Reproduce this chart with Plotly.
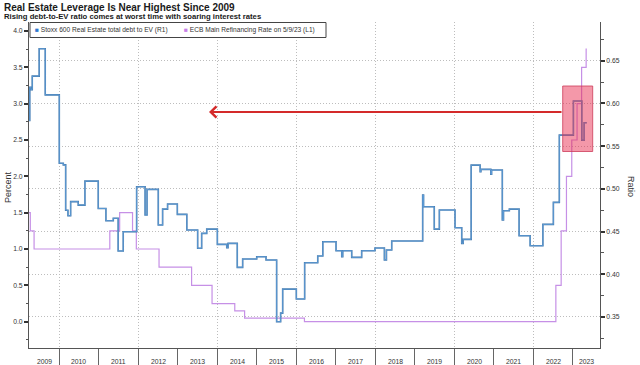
import plotly.graph_objects as go

# ---------------- data ----------------
blue_dates = [
    "2009-03-27", "2009-04-03", "2009-04-14", "2009-04-26", "2009-06-29", "2009-08-24",
    "2010-01-01", "2010-02-07", "2010-03-01", "2010-03-22", "2010-04-16", "2010-06-25",
    "2010-08-26", "2010-12-27", "2011-03-08", "2011-05-15", "2011-06-29", "2011-08-15",
    "2011-12-17", "2012-03-04", "2012-03-22", "2012-07-04", "2012-08-13", "2012-09-28",
    "2012-12-27", "2013-03-25", "2013-07-03", "2013-08-09", "2013-09-25", "2014-01-01",
    "2014-03-29", "2014-04-10", "2014-07-04", "2014-08-23", "2014-12-31", "2015-03-27",
    "2015-07-03", "2015-08-09", "2015-08-28", "2016-01-01", "2016-03-18", "2016-07-17",
    "2016-09-02", "2017-01-02", "2017-02-24", "2017-03-05", "2017-05-27", "2017-08-27",
    "2017-12-28", "2018-03-25", "2018-04-13", "2018-06-01", "2019-03-14", "2019-03-22",
    "2019-06-29", "2019-08-15", "2020-01-07", "2020-03-09", "2020-03-22", "2020-06-04",
    "2020-08-26", "2020-09-02", "2020-12-03", "2020-12-10", "2021-03-19", "2021-03-30",
    "2021-05-23", "2021-08-21", "2021-12-01", "2022-03-29", "2022-07-04", "2022-08-28",
    "2023-01-05", "2023-03-24", "2023-04-14", "2023-05-09",
]
blue_values = [
    0.580, 0.619, 0.616, 0.632, 0.664, 0.610,
    0.530, 0.528, 0.475, 0.4685, 0.485, 0.481,
    0.509, 0.477, 0.4627, 0.4655, 0.4272, 0.4498,
    0.5024, 0.4693, 0.4994, 0.4576, 0.4763, 0.4822,
    0.4701, 0.4518, 0.4304, 0.4479, 0.4529, 0.4350,
    0.4310, 0.4362, 0.4081, 0.4179, 0.4205, 0.4167,
    0.3445, 0.3545, 0.3826, 0.3711, 0.4135, 0.4214,
    0.4381, 0.4276, 0.4206, 0.4276, 0.4198, 0.4276,
    0.4307, 0.4167, 0.4284, 0.4389, 0.4927, 0.4790,
    0.4529, 0.4752, 0.4545, 0.4362, 0.4409, 0.5278,
    0.5200, 0.5228, 0.5170, 0.5220, 0.4635, 0.4744,
    0.4763, 0.4451, 0.4334, 0.4584, 0.4842, 0.5629,
    0.6029, 0.5570, 0.5773, 0.5773,
]

ecb_dates = [
    "2009-03-27", "2009-04-08", "2009-05-13", "2011-04-13", "2011-07-13", "2011-11-09",
    "2011-12-14", "2012-07-11", "2013-05-08", "2013-11-13", "2014-06-11", "2014-09-10",
    "2016-03-16", "2022-07-27", "2022-09-14", "2022-11-02", "2022-12-21", "2023-02-08",
    "2023-03-22", "2023-05-03", "2023-05-09",
]
ecb_values = [
    1.50, 1.25, 1.00, 1.25, 1.50, 1.25,
    1.00, 0.75, 0.50, 0.25, 0.15, 0.05,
    0.00, 0.50, 1.25, 2.00, 2.50, 3.00,
    3.50, 3.75, 3.75,
]

year_labels = [str(y) for y in range(2009, 2024)]
year_label_pos = ["2009-08-14"] + [f"{y}-07-02" for y in range(2010, 2023)] + ["2023-05-06"]
grid_years = [f"{y}-01-01" for y in range(2010, 2023, 2)]
odd_years = [f"{y}-01-01" for y in range(2011, 2024, 2)]

x_range = ["2009-03-27", "2023-09-08"]
left_range = [-0.362, 4.124]
right_range = [0.3137, 0.6953]

FONT = "Liberation Sans, Arial, sans-serif"
BLUE_DARK = "#4677a8"
BLUE = "#6ab0f0"
PURPLE = "#c690e6"

fig = go.Figure()

fig.add_trace(go.Scatter(
    x=ecb_dates, y=ecb_values, mode="lines", line=dict(color=PURPLE, width=1.2, shape="hv"),
    xaxis="x", yaxis="y", showlegend=False, hoverinfo="skip"))
fig.add_trace(go.Scatter(
    x=blue_dates, y=blue_values, mode="lines", line=dict(color=BLUE_DARK, width=1.6, shape="hv"),
    xaxis="x", yaxis="y2", showlegend=False, hoverinfo="skip"))
fig.add_trace(go.Scatter(
    x=blue_dates, y=blue_values, mode="lines", line=dict(color=BLUE, width=0.6, shape="hv"),
    xaxis="x", yaxis="y2", showlegend=False, hoverinfo="skip"))

W, H = 640, 365
L, R, T, B = 29, 40, 22, 17
PW, PH = W - L - R, H - T - B


def px(xp):
    return (xp - L) / PW


def py(yp):
    return (H - B - yp) / PH


tickfont = dict(family=FONT, size=6.8, color="#333")
GRID = "#bdbdbd"
GRIDDASH = "1px,2px"

fig.update_layout(
    width=W, height=H,
    margin=dict(l=L, r=R, t=T, b=B, pad=0),
    template="none",
    paper_bgcolor="white", plot_bgcolor="white",
    showlegend=False,
    font=dict(family=FONT, color="#333"),
    xaxis=dict(
        type="date", range=x_range, tickvals=grid_years, showticklabels=False,
        ticks="outside", ticklen=17, tickcolor="#666", tickwidth=1,
        showgrid=True, griddash=GRIDDASH, gridcolor=GRID, gridwidth=1,
        minor=dict(tickvals=odd_years, ticks="outside", ticklen=17, tickcolor="#666",
                   tickwidth=1, showgrid=False),
        showline=True, linecolor="#555", linewidth=1, zeroline=False, automargin=False,
    ),
    yaxis=dict(
        range=left_range, tick0=0, dtick=0.5, tickformat=".1f", tickfont=tickfont,
        ticks="outside", ticklen=4, tickwidth=1.5, tickcolor="#333",
        minor=dict(dtick=0.25, tick0=0, ticks="outside", ticklen=2.5, tickwidth=1,
                   tickcolor="#555", showgrid=False),
        showgrid=False, showline=True, linecolor="#555", linewidth=1, zeroline=False,
        automargin=False,
    ),
    yaxis2=dict(
        range=right_range, overlaying="y", side="right", anchor="x",
        tick0=0.35, dtick=0.05, tickformat=".2f", tickfont=tickfont,
        ticks="outside", ticklen=4, tickwidth=1.5, tickcolor="#333",
        minor=dict(dtick=0.025, tick0=0.35, ticks="outside", ticklen=2.5, tickwidth=1,
                   tickcolor="#555", showgrid=False),
        showgrid=True, griddash=GRIDDASH, gridcolor=GRID, gridwidth=1,
        showline=True, linecolor="#555", linewidth=1, zeroline=False, automargin=False,
    ),
)

shapes = [
    # highlight box
    dict(type="rect", xref="paper", yref="paper",
         x0=px(562.7), x1=px(592.7), y0=py(151.5), y1=py(86),
         fillcolor="rgba(232,40,75,0.48)", line=dict(color="rgba(205,60,90,0.8)", width=1),
         layer="above"),
    # legend box
    dict(type="rect", xref="paper", yref="paper",
         x0=px(30), x1=px(326), y0=py(37.5), y1=py(22.5),
         fillcolor="white", line=dict(color="#444", width=1), layer="above"),
]
fig.update_layout(shapes=shapes)

annotations = [
    dict(text="<b>Real Estate Leverage Is Near Highest Since 2009</b>",
         xref="paper", yref="paper", x=px(1.5), y=py(7), xanchor="left", yanchor="middle",
         showarrow=False, font=dict(family=FONT, size=10.0, color="#1a1a1a")),
    dict(text="<b>Rising debt-to-EV ratio comes at worst time with soaring interest rates</b>",
         xref="paper", yref="paper", x=px(1.5), y=py(16.2), xanchor="left", yanchor="middle",
         showarrow=False, font=dict(family=FONT, size=7.7, color="#1a1a1a")),
    dict(text="<span style='color:#2f78d0'>\u25a0</span> Stoxx 600 Real Estate total debt to EV (R1)",
         xref="paper", yref="paper", x=px(32.5), y=py(30), xanchor="left", yanchor="middle",
         showarrow=False, font=dict(family=FONT, size=6.6, color="#333")),
    dict(text="<span style='color:#c77fe8'>\u25a0</span> ECB Main Refinancing Rate on 5/9/23 (L1)",
         xref="paper", yref="paper", x=px(181.5), y=py(30), xanchor="left", yanchor="middle",
         showarrow=False, font=dict(family=FONT, size=6.6, color="#333")),
    dict(text="Percent", xref="paper", yref="paper", x=px(8), y=py(187), textangle=-90,
         xanchor="center", yanchor="middle", showarrow=False,
         font=dict(family=FONT, size=9, color="#333")),
    dict(text="Ratio", xref="paper", yref="paper", x=px(631), y=py(186), textangle=90,
         xanchor="center", yanchor="middle", showarrow=False,
         font=dict(family=FONT, size=9, color="#333")),
    # red arrow
    dict(text="", xref="paper", yref="paper", x=px(209), y=py(112), ax=354, ay=0,
         showarrow=True, arrowhead=4, arrowsize=1.1, arrowwidth=2, arrowcolor="#d42a2a",
         standoff=0, startstandoff=0),
]
# year labels along the time axis (centred within each visible year)
for pos, lab in zip(year_label_pos, year_labels):
    annotations.append(dict(text=lab, xref="x", yref="paper", x=pos, y=py(361),
                            xanchor="center", yanchor="middle", showarrow=False,
                            font=tickfont))
fig.update_layout(annotations=annotations)

fig.write_html("out.html", post_script="document.body.style.margin='0px';",
               config={"displayModeBar": False})
